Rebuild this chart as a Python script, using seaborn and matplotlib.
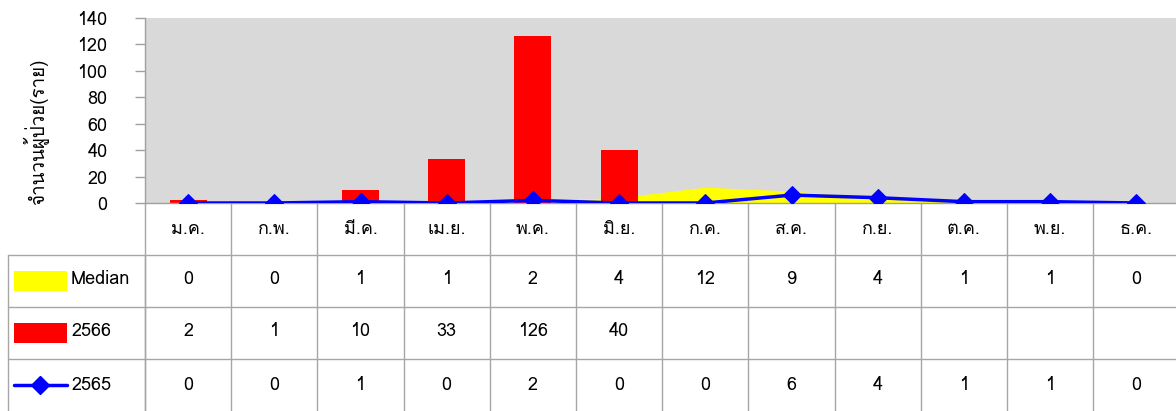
import matplotlib
matplotlib.use("Agg")
import matplotlib.pyplot as plt
from matplotlib.lines import Line2D
from matplotlib.patches import Rectangle
from matplotlib.transforms import blended_transform_factory
import numpy as np
import pandas as pd
import seaborn as sns

# ---- data ----
months = ["ม.ค.", "ก.พ.", "มี.ค.", "เม.ย.", "พ.ค.", "มิ.ย.", "ก.ค.", "ส.ค.", "ก.ย.", "ต.ค.", "พ.ย.", "ธ.ค."]
median_vals = [0, 0, 1, 1, 2, 4, 12, 9, 4, 1, 1, 0]
cases_2566 = [2, 1, 10, 33, 126, 40, None, None, None, None, None, None]
cases_2565 = [0, 0, 1, 0, 2, 0, 0, 6, 4, 1, 1, 0]
series_names = ["Median", "2566", "2565"]
y_ticks = [0, 20, 40, 60, 80, 100, 120, 140]
y_label = "จำนวนผู้ป่วย(ราย)"

sns.set_style("white")
plt.rcParams['font.family'] = ['Loma', 'DejaVu Sans']
plt.rcParams['text.color'] = 'black'
plt.rcParams['ytick.labelcolor'] = 'black'
plt.rcParams['ytick.color'] = 'black'

W, H = 1176, 411
fig = plt.figure(figsize=(W / 100, H / 100), dpi=100)

def fx(px):
    return px / W

def fy(py):
    return 1 - py / H

ax_left, ax_top, ax_bottom = 145, 18, 203
ax = fig.add_axes([fx(ax_left), fy(ax_bottom), 1 - fx(ax_left) + 0.003, fy(ax_top) - fy(ax_bottom)])
ax.set_facecolor("#D9D9D9")

idx = np.arange(len(months))
df = pd.DataFrame({"pos": idx, "median": median_vals,
                   "c2566": pd.array(cases_2566, dtype="Float64").astype(float),
                   "c2565": cases_2565})

ax.fill_between(df["pos"], 0, df["median"], color="#FFFF00", lw=0, zorder=1)
sns.barplot(data=df, x="pos", y="c2566", order=list(idx), color="#FF0000",
            width=0.43, saturation=1, linewidth=0, ax=ax, zorder=2)
sns.lineplot(data=df, x="pos", y="c2565", color="#0000FF", lw=2.5, marker="D",
             markersize=9, markeredgecolor="#0000FF", ax=ax, zorder=3)

ax.set_xlim(-0.5, len(months) - 0.5)
ax.set_ylim(0, 140)
ax.set_yticks(y_ticks)
ax.set_yticklabels([str(t) for t in y_ticks], fontsize=13, color="black")
ax.tick_params(axis="y", length=7, width=1, color="#A0A0A0", pad=20, left=True)
ax.set_xticks([])
ax.set_xlabel("")
ax.set_ylabel("")
for s in ["top", "right"]:
    ax.spines[s].set_visible(False)
for s in ["left", "bottom"]:
    ax.spines[s].set_color("#A0A0A0")
    ax.spines[s].set_linewidth(1)
if ax.get_legend():
    ax.get_legend().remove()

fig.text(fx(36), fy(132), y_label, rotation=90, ha="center", va="center", fontsize=13.5)

# ---- data table ----
grid_c = "#A6A6A6"
bt = blended_transform_factory(ax.transData, fig.transFigure)
for b in np.arange(-0.5, len(months), 1.0):
    ax.add_line(Line2D([b, b], [0, fy(ax_bottom)], transform=bt, color=grid_c, lw=1, clip_on=False))

row_lines = [255, 307, 359]
for yl in row_lines:
    fig.add_artist(Line2D([fx(8), 1], [fy(yl), fy(yl)], color=grid_c, lw=1))
fig.add_artist(Line2D([fx(8), fx(8)], [fy(255), 0], color=grid_c, lw=1))
fig.add_artist(Line2D([fx(ax_left), fx(ax_left)], [fy(255), 0], color=grid_c, lw=1))

for i, m in enumerate(months):
    ax.text(i, fy(229), m, transform=bt, ha="center", va="center", fontsize=13)

row_y = [279, 331, 385]
for row_vals, yy in zip([median_vals, cases_2566, cases_2565], row_y):
    for i, v in enumerate(row_vals):
        if v is None:
            continue
        ax.text(i, fy(yy), str(v), transform=bt, ha="center", va="center", fontsize=13)

# legend keys
fig.add_artist(Rectangle((fx(14), fy(291)), fx(53), fy(271) - fy(291), color="#FFFF00", lw=0))
fig.add_artist(Rectangle((fx(14), fy(343)), fx(53), fy(323) - fy(343), color="#FF0000", lw=0))
fig.add_artist(Line2D([fx(14), fx(67)], [fy(385), fy(385)], color="#0000FF", lw=2.5))
fig.add_artist(Line2D([fx(40.5)], [fy(385)], color="#0000FF", marker="D", markersize=9, lw=0))
for name, yy in zip(series_names, row_y):
    fig.text(fx(71), fy(yy), name, ha="left", va="center", fontsize=13)

fig.savefig("out.png", dpi=100)
